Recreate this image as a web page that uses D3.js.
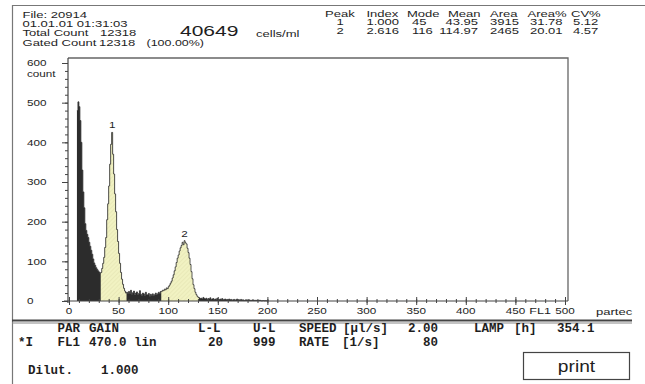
<!DOCTYPE html>
<html>
<head>
<meta charset="utf-8">
<script src="https://cdn.jsdelivr.net/npm/d3@7"></script>
<style>
  body { margin: 0; background: #fff; }
  text { fill: #1e1e1e; }
  .sans { font-family: "Liberation Sans", Arial, sans-serif; }
  .mono { font-family: "Liberation Mono", "DejaVu Sans Mono", monospace; font-weight: bold; font-size: 12.5px; }
</style>
</head>
<body>
<div id="chart"></div>
<script>
// histogram counts, one value per channel starting at histStart
var histStart = 8;
var counts = [
  480, 502, 490, 455, 400, 330, 275, 235, 195, 178, 168, 160, 148, 138, 128, 118, 106, 96, 90, 84, 80, 76, 73, 70,
  72, 82, 95, 110, 135, 160, 205, 245, 290, 345, 395, 425, 370, 320, 270, 225, 180, 150, 120, 95, 72, 55, 42, 32, 25, 20,
  22, 18, 24, 19, 27, 17, 21, 25, 16, 20, 23, 15, 19, 26, 17, 14, 20, 18, 13, 22, 16, 15, 19, 12, 17, 14, 18, 13, 16, 20, 15, 18, 22, 19, 24,
  24, 27, 26, 30, 28, 33, 31, 36, 40, 45, 50, 58, 66, 76, 86, 97, 108, 116, 126, 134, 140, 148, 142, 152, 147, 144, 133, 122, 108, 92, 74, 56, 41, 31, 22, 16, 12, 9,
  8, 6, 7, 5, 9, 6, 5, 7, 4, 6, 5, 8, 4, 5, 6, 3, 5, 4, 7, 4, 3, 5, 4, 6, 3, 4, 5, 3, 4, 2,
  5, 3, 4, 2, 3, 4, 2, 3, 5, 2, 3, 2, 4, 2, 3, 1, 2, 3, 2, 1, 3, 2, 1, 2, 3, 1, 2, 1, 2, 1,
  1, 2, 1, 0, 1, 1, 0, 1, 0, 1
];
// gated peak ranges (first and last channel) and their names
var gates = [[32, 57], [93, 130]];
var peakNames = ["1", "2"];

var xTicks = [0, 50, 100, 150, 200, 250, 300, 350, 400, 450, 500];
var yTicks = [0, 100, 200, 300, 400, 500, 600];

var headerLines = ["File: 20914", "01.01.01  01:31:03", "Total Count", "Gated Count"];
var totalCount = "12318", gatedCount = "12318", gatedPct = "(100.00%)";
var concentration = "40649", concUnit = "cells/ml";

var tableHead = ["Peak", "Index", "Mode", "Mean", "Area", "Area%", "CV%"];
var peakRows = [
  ["1", "1.000", "45", "43.95", "3915", "31.78", "5.12"],
  ["2", "2.616", "116", "114.97", "2465", "20.01", "4.57"]
];

var paramRow1 = ["PAR", "GAIN", "L-L", "U-L", "SPEED", "[\u00b5l/s]", "2.00", "LAMP", "[h]", "354.1"];
var paramRow2 = ["*I", "FL1", "470.0", "lin", "20", "999", "RATE", "[1/s]", "80"];
var dilution = ["Dilut.", "1.000"];

var W = 645, H = 384;

var svg = d3.select("#chart").append("svg")
    .attr("width", W)
    .attr("height", H);

var xScale = d3.scaleLinear().domain([0, 500]).range([69, 565]);
var yScale = d3.scaleLinear().domain([0, 600]).range([301, 63]);

// stretched sans text like the instrument printout
function wide(str, x, y, size, sx, anchor) {
  return svg.append("text")
      .attr("class", "sans")
      .attr("transform", "translate(" + x + "," + y + ") scale(" + sx + ",1)")
      .attr("font-size", size)
      .attr("text-anchor", anchor || "start")
      .text(str);
}
function mono(str, x, y) {
  return svg.append("text").attr("class", "mono").attr("x", x).attr("y", y).text(str);
}

// page border
svg.append("path")
    .attr("d", "M12.5," + H + "V5.5H" + W)
    .attr("fill", "none").attr("stroke", "#777").attr("stroke-width", 1.2);

// header
wide(headerLines[0], 22.5, 17.5, 9, 1.45);
wide(headerLines[1], 22.5, 27, 9, 1.45);
wide(headerLines[2], 22.5, 36, 9, 1.45);
wide(totalCount, 100, 36, 9, 1.45);
wide(headerLines[3], 22.5, 45.5, 9, 1.45);
wide(gatedCount, 99, 45.5, 9, 1.45);
wide(gatedPct, 146.5, 45.5, 8.6, 1.45);
wide(concentration, 180, 35.8, 14.5, 1.45);
wide(concUnit, 256, 36.5, 9, 1.45);

var colX = [325, 366.5, 407, 448, 490, 527.5, 571];
var valX = [340, 366.5, 412, 478, 490, 530, 573];
var valAnchor = ["middle", "start", "start", "end", "start", "start", "start"];
tableHead.forEach(function(h, i) { wide(h, colX[i], 16.7, 9, 1.45); });
peakRows.forEach(function(row, r) {
  row.forEach(function(v, i) { wide(v, valX[i], 25 + r * 8.7, 9, 1.45, valAnchor[i]); });
});

// plot frame
svg.append("path")
    .attr("d", "M" + 68 + ",58H568V301")
    .attr("fill", "none").attr("stroke", "#666").attr("stroke-width", 1.3);

// histogram
var bins = counts.map(function(c, i) { return {ch: histStart + i, n: c}; });
bins.push({ch: histStart + counts.length, n: counts[counts.length - 1]});

var area = d3.area()
    .x(function(d) { return xScale(d.ch); })
    .y0(yScale(0))
    .y1(function(d) { return yScale(d.n); })
    .curve(d3.curveStepAfter);

var line = d3.line()
    .x(function(d) { return xScale(d.ch); })
    .y(function(d) { return yScale(d.n); })
    .curve(d3.curveStepAfter);

var defs = svg.append("defs");
var pat = defs.append("pattern")
    .attr("id", "hatch").attr("patternUnits", "userSpaceOnUse")
    .attr("width", 3).attr("height", 3)
    .attr("patternTransform", "rotate(45)");
pat.append("rect").attr("width", 3).attr("height", 3).attr("fill", "#f1f2c2");
pat.append("line").attr("x1", 0).attr("y1", 0).attr("x2", 0).attr("y2", 3)
    .attr("stroke", "#dcdcab").attr("stroke-width", 0.8);

svg.append("path")
    .datum(bins)
    .attr("d", area)
    .attr("fill", "#2c2c2c");

gates.forEach(function(g) {
  var part = bins.filter(function(d) { return d.ch >= g[0] && d.ch <= g[1]; });
  part.push({ch: g[1] + 1, n: part[part.length - 1].n});
  svg.append("path")
      .datum(part)
      .attr("d", area)
      .attr("fill", "url(#hatch)");
});

svg.append("path")
    .datum(bins)
    .attr("d", line)
    .attr("fill", "none")
    .attr("stroke", "#333")
    .attr("stroke-width", 0.8);

// peak labels above the highest bin of each gate
gates.forEach(function(g, i) {
  var part = bins.filter(function(d) { return d.ch >= g[0] && d.ch <= g[1]; });
  var top = part.reduce(function(a, b) { return b.n > a.n ? b : a; });
  wide(peakNames[i], xScale(top.ch + 0.5), yScale(top.n) - 4, 9, 1.3, "middle");
});

// axes
var xMinor = d3.range(0, 501, 10);
svg.append("g")
    .attr("transform", "translate(0,299)")
    .call(d3.axisBottom(xScale).tickValues(xMinor).tickSize(4).tickFormat(""))
    .call(function(g) { g.select(".domain").remove(); });
svg.append("g")
    .attr("transform", "translate(0,297)")
    .call(d3.axisBottom(xScale).tickValues(xTicks).tickSize(8).tickFormat(""))
    .call(function(g) { g.select(".domain").remove(); });
svg.append("line")
    .attr("x1", 64).attr("x2", 568).attr("y1", 301).attr("y2", 301)
    .attr("stroke", "#444").attr("stroke-width", 1.2);

svg.append("g")
    .attr("transform", "translate(68,0)")
    .call(d3.axisLeft(yScale).tickValues(d3.range(0, 601, 20)).tickSize(3).tickFormat(""))
    .call(function(g) { g.select(".domain").remove(); });
svg.append("g")
    .attr("transform", "translate(68,0)")
    .call(d3.axisLeft(yScale).tickValues(yTicks).tickSize(6).tickFormat(""))
    .call(function(g) { g.select(".domain").remove(); });
svg.append("line")
    .attr("x1", 68).attr("x2", 68).attr("y1", 58).attr("y2", 303)
    .attr("stroke", "#444").attr("stroke-width", 1.2);
svg.selectAll(".tick line").attr("stroke", "#444");

xTicks.forEach(function(v) { wide(String(v), xScale(v), 314, 9, 1.3, "middle"); });
wide("FL1", 551, 314, 9, 1.4, "end");
wide("partec", 596, 315, 9, 1.45);

yTicks.forEach(function(v) { wide(String(v), 27, yScale(v) + 3.3, 9, 1.3); });
wide("count", 27, 76.5, 9, 1.3);

// parameter block
svg.append("line").attr("x1", 12).attr("x2", 632).attr("y1", 320.5).attr("y2", 320.5)
    .attr("stroke", "#444").attr("stroke-width", 1.8);
svg.append("line").attr("x1", 12).attr("x2", 632).attr("y1", 323).attr("y2", 323)
    .attr("stroke", "#888").attr("stroke-width", 1);

var row1X = [57.5, 89, 198, 253, 299, 343, 408, 474, 514, 557];
var row2X = [18, 57.5, 89, 134, 208, 253, 299, 342, 423];
paramRow1.forEach(function(s, i) { mono(s, row1X[i], 332); });
paramRow2.forEach(function(s, i) { mono(s, row2X[i], 345.5); });
mono(dilution[0], 28, 374);
mono(dilution[1], 101, 374);

svg.append("rect")
    .attr("x", 523.5).attr("y", 352.5).attr("width", 106).attr("height", 27)
    .attr("fill", "none").attr("stroke", "#444").attr("stroke-width", 1.2);
wide("print", 576.5, 371.5, 16, 1.2, "middle");
</script>
</body>
</html>
